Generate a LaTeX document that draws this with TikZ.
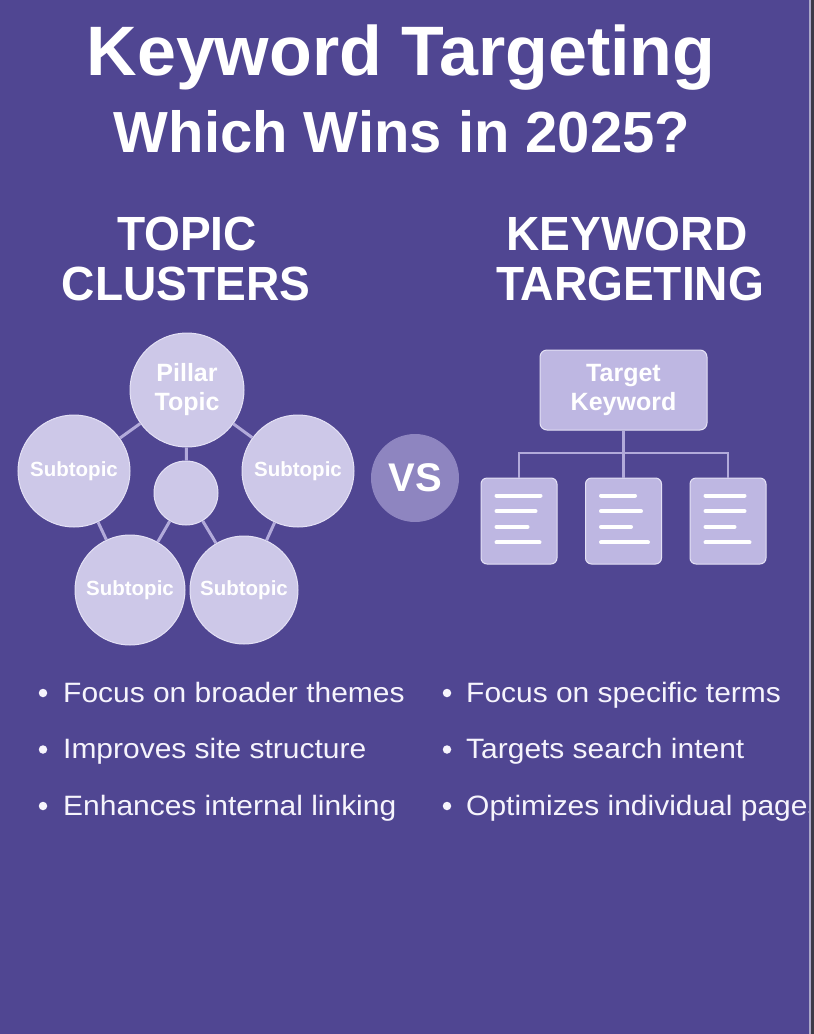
\documentclass[tikz,border=0pt]{standalone}
\usepackage{fontspec}
\setmainfont{Liberation Sans}
\newfontfamily\listfont[FakeStretch=1.07]{Liberation Sans}
\newfontfamily\headfont[FakeStretch=0.96]{Liberation Sans}
\usepackage{xcolor}
\usepackage{tikz}
\usetikzlibrary{positioning}

\definecolor{bgpurple}{RGB}{80,70,146}
\definecolor{bubblefill}{RGB}{205,200,232}
\definecolor{bubbleedge}{RGB}{228,225,245}
\definecolor{linkcol}{RGB}{178,170,218}
\definecolor{boxfill}{RGB}{190,183,226}
\definecolor{vsfill}{RGB}{142,133,192}
\definecolor{textwhite}{RGB}{246,244,252}
\definecolor{edgelight}{RGB}{170,166,200}
\definecolor{edgegray}{RGB}{60,58,72}

\begin{document}
\begin{tikzpicture}[
  x=1pt, y=-1pt,
  bubble/.style={circle, fill=bubblefill, draw=bubbleedge, line width=1pt, text=white, align=center, inner sep=0pt, font=\bfseries\fontsize{20.5}{24}\selectfont},
  link/.style={draw=linkcol, line width=3pt},
  keybox/.style={rectangle, rounded corners=7pt, fill=boxfill, draw=bubbleedge, line width=1pt, text=white, align=center, minimum width=167pt, minimum height=80pt, font=\bfseries\fontsize{25}{29}\selectfont},
  docbox/.style={rectangle, rounded corners=6pt, fill=boxfill, draw=bubbleedge, line width=1pt, minimum width=76pt, minimum height=86pt, inner sep=0pt},
  docline/.style={draw=white, line width=4pt, line cap=round},
  head/.style={text=white, font=\headfont\bfseries\fontsize{48}{50}\selectfont, anchor=base},
  bullet/.style={circle, fill=textwhite, inner sep=0pt, minimum size=8.5pt},
  point/.style={text=textwhite, font=\listfont\fontsize{28}{32}\selectfont, anchor=base west, inner sep=0pt}
]
  \begin{scope}
  \clip (0,0) rectangle (809,1034);
  \fill[bgpurple] (0,0) rectangle (809,1034);

  % titles
  \node[text=white, font=\bfseries\fontsize{70}{74}\selectfont, anchor=base] (title) at (401,75) {Keyword Targeting};
  \node[text=white, font=\bfseries\fontsize{58}{62}\selectfont, anchor=base] (subtitle) at (402,152) {Which Wins in 2025?};

  \node[head] (topic) at (187,250) {TOPIC};
  \node[head] (clusters) at (186,300) {CLUSTERS};
  \node[head] (keyword) at (627,250) {KEYWORD};
  \node[head] (targeting) at (630,300) {TARGETING};

  % topic cluster
  \node[bubble, minimum size=114pt, font=\bfseries\fontsize{25}{29}\selectfont] (pillar) at (187,390) {Pillar\\Topic};
  \node[bubble, minimum size=112pt] (subL) at (74,471) {Subtopic};
  \node[bubble, minimum size=112pt] (subR) at (298,471) {Subtopic};
  \node[bubble, minimum size=64pt] (hub) at (186,493) {};
  \node[bubble, minimum size=110pt] (subBL) at (130,590) {Subtopic};
  \node[bubble, minimum size=108pt] (subBR) at (244,590) {Subtopic};

  \draw[link] (pillar) -- (subL);
  \draw[link] (pillar) -- (subR);
  \draw[link] (pillar) -- (hub);
  \draw[link] (subL) -- (subBL);
  \draw[link] (subR) -- (subBR);
  \draw[link] (hub) -- (subBL);
  \draw[link] (hub) -- (subBR);

  \node[circle, fill=vsfill, minimum size=88pt, inner sep=0pt, text=white, font=\bfseries\fontsize{40}{40}\selectfont] (vs) at (415,478) {VS};

  % keyword tree
  \node[keybox] (target) at (623.5,390) {Target\\Keyword};
  \node[docbox] (doc1) at (519,521) {};
  \node[docbox] (doc2) at (623.5,521) {};
  \node[docbox] (doc3) at (728,521) {};
  \coordinate (bus) at (623.5,453);

  \draw[link, line width=2.5pt] (target.south) -- (bus);
  \draw[link, line width=2.5pt] (doc1.north) |- (bus) -| (doc3.north);
  \draw[link, line width=2.5pt] (bus) -- (doc2.north);

  \foreach \d/\la/\lb/\lc/\ld in {doc1/44/39/31/43, doc2/34/40/30/47, doc3/39/39/29/44} {
    \foreach \l [count=\i] in {\la,\lb,\lc,\ld}
      \draw[docline] ([shift={(16,2.5+15.6*\i)}]\d.north west) -- ++(\l,0);
  }

  % bullet points
  \foreach \txt [count=\i] in {Focus on broader themes,Improves site structure,Enhances internal linking} {
    \node[bullet] (lb\i) at (43,636.5+56.5*\i) {};
    \node[point] (lp\i) at (63,645.5+56.5*\i) {\txt};
  }
  \foreach \txt [count=\i] in {Focus on specific terms,Targets search intent,Optimizes individual pages} {
    \node[bullet] (rb\i) at (447,636.5+56.5*\i) {};
    \node[point] (rp\i) at (466,645.5+56.5*\i) {\txt};
  }
  \end{scope}

  % right edge
  \fill[edgegray] (809,0) rectangle (814,1034);
  \fill[edgelight] (809,0) rectangle (810.5,1034);
\end{tikzpicture}
\end{document}
